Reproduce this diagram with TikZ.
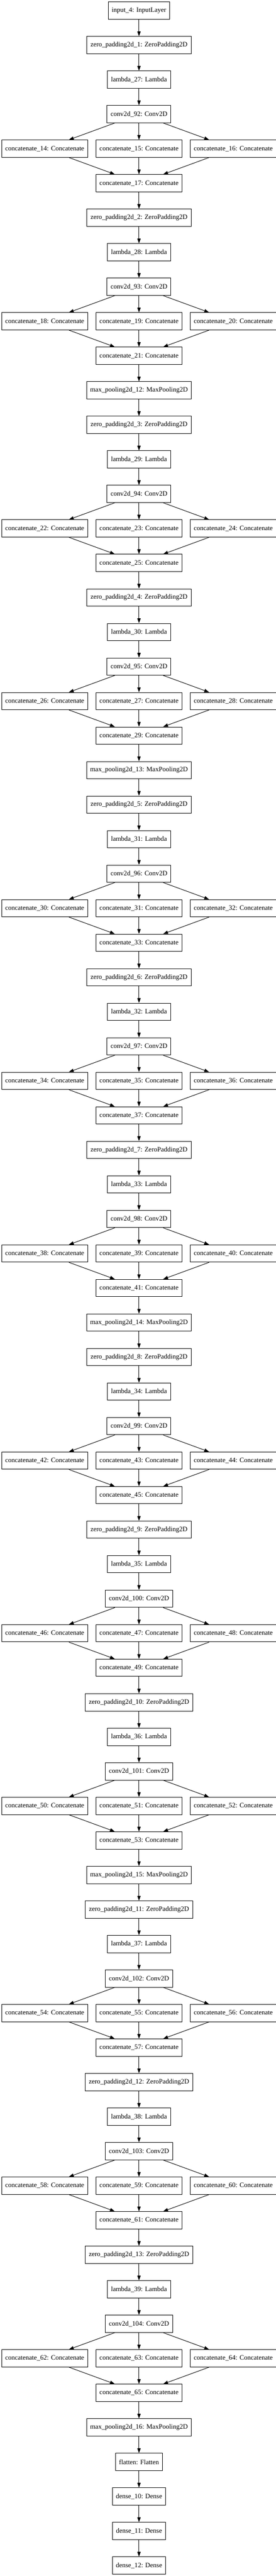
\documentclass[tikz,border=0pt]{standalone}
\usepackage{fontspec}
\setmainfont{Liberation Serif}
\usepackage{tikz}
\usetikzlibrary{shapes,arrows.meta}
\tikzstyle{layer} = [rectangle, draw, line width=1pt, inner xsep=7.5pt, inner ysep=0pt,
    minimum height=36pt, font=\fontsize{14}{16}\selectfont]
\tikzstyle{link} = [-{Triangle[length=10pt,width=7pt]}, line width=1pt]

\begin{document}
\begin{tikzpicture}[x=1pt, y=1pt]
	\useasboundingbox (0,0) rectangle (575.4,-5372);

	% Place nodes
	\node [layer] at (290,-22) (input) {input\_4: InputLayer};

	% padding, lambda, conv, three concatenates and their concatenate
	\foreach \k/\r in {1/1, 2/6, 3/12, 4/17, 5/23, 6/28, 7/33, 8/39, 9/44, 10/49, 11/55, 12/60, 13/65} {
		\pgfmathtruncatemacro{\lam}{26+\k}
		\pgfmathtruncatemacro{\cv}{91+\k}
		\pgfmathtruncatemacro{\ca}{4*\k+10}
		\pgfmathtruncatemacro{\cb}{4*\k+11}
		\pgfmathtruncatemacro{\cc}{4*\k+12}
		\pgfmathtruncatemacro{\cd}{4*\k+13}
		\node [layer] at (290,{-22-72*\r}) (zp\k) {zero\_padding2d\_\k: ZeroPadding2D};
		\node [layer] at (290,{-94-72*\r}) (lam\k) {lambda\_\lam: Lambda};
		\node [layer] at (290,{-166-72*\r}) (conv\k) {conv2d\_\cv: Conv2D};
		\node [layer] at (93.25,{-238-72*\r}) (cata\k) {concatenate\_\ca: Concatenate};
		\node [layer] at (290,{-238-72*\r}) (catb\k) {concatenate\_\cb: Concatenate};
		\node [layer] at (486.75,{-238-72*\r}) (catc\k) {concatenate\_\cc: Concatenate};
		\node [layer] at (290,{-310-72*\r}) (cat\k) {concatenate\_\cd: Concatenate};

		\draw [link] (zp\k) -- (lam\k);
		\draw [link] (lam\k) -- (conv\k);
		\draw [link] (conv\k) -- (cata\k);
		\draw [link] (conv\k) -- (catb\k);
		\draw [link] (conv\k) -- (catc\k);
		\draw [link] (cata\k) -- (cat\k);
		\draw [link] (catb\k) -- (cat\k);
		\draw [link] (catc\k) -- (cat\k);
	}

	% pooling after some of the blocks
	\foreach \k/\n/\r in {2/12/11, 4/13/22, 7/14/38, 10/15/54, 13/16/70} {
		\node [layer] at (290,{-22-72*\r}) (pool\k) {max\_pooling2d\_\n: MaxPooling2D};
		\draw [link] (cat\k) -- (pool\k);
	}

	\node [layer] at (290,-5134) (flatten) {flatten: Flatten};
	\node [layer] at (290,-5206) (dense10) {dense\_10: Dense};
	\node [layer] at (290,-5278) (dense11) {dense\_11: Dense};
	\node [layer] at (290,-5350) (dense12) {dense\_12: Dense};

	\foreach \k/\prev in {1/input, 2/cat1, 3/pool2, 4/cat3, 5/pool4, 6/cat5, 7/cat6,
		8/pool7, 9/cat8, 10/cat9, 11/pool10, 12/cat11, 13/cat12}
		\draw [link] (\prev) -- (zp\k);

	\draw [link] (pool13) -- (flatten);
	\draw [link] (flatten) -- (dense10);
	\draw [link] (dense10) -- (dense11);
	\draw [link] (dense11) -- (dense12);
\end{tikzpicture}
\end{document}
